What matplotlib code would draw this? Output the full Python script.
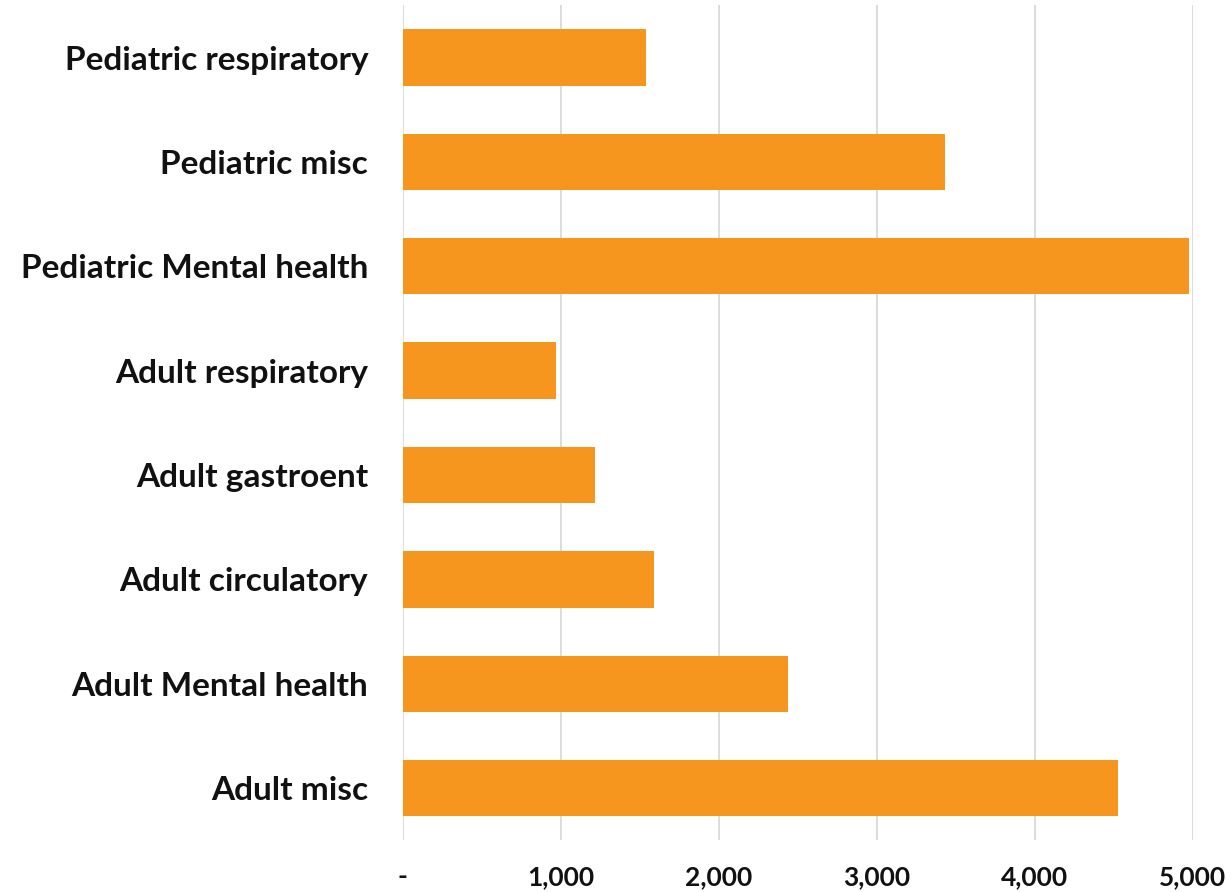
import matplotlib.pyplot as plt
from matplotlib.ticker import FixedLocator, FixedFormatter

# categories, bottom to top
categories = ["Adult misc", "Adult Mental health", "Adult circulatory", "Adult gastroent",
              "Adult respiratory", "Pediatric Mental health", "Pediatric misc",
              "Pediatric respiratory"]
values = [4525, 2440, 1590, 1215, 970, 4980, 3435, 1540]

xticks = [0, 1000, 2000, 3000, 4000, 5000]
xtick_labels = ["-", "1,000", "2,000", "3,000", "4,000", "5,000"]

plt.rcParams['font.family'] = ['Lato', 'DejaVu Sans']

fig = plt.figure(figsize=(12.32, 8.92), dpi=100)
ax = fig.add_axes([0.327, 0.058, 0.641, 0.936])

ax.barh(range(len(categories)), values, height=0.54, color="#F7961F", zorder=3)

ax.set_xlim(0, 5000)
ax.set_ylim(-0.5, len(categories) - 0.5)

ax.xaxis.set_major_locator(FixedLocator(xticks))
ax.xaxis.set_major_formatter(FixedFormatter(xtick_labels))
ax.set_yticks(range(len(categories)))
ax.set_yticklabels(categories)

ax.grid(axis="x", color="#D9D9D9", linewidth=1.3, zorder=0)
for s in ax.spines.values():
    s.set_visible(False)
ax.tick_params(axis="both", length=0)
ax.tick_params(axis="y", pad=25, labelsize=24)
ax.tick_params(axis="x", pad=18, labelsize=19)
for lab in ax.get_yticklabels() + ax.get_xticklabels():
    lab.set_fontweight("bold")
    lab.set_color("#111111")

fig.savefig("out.png", dpi=100)
